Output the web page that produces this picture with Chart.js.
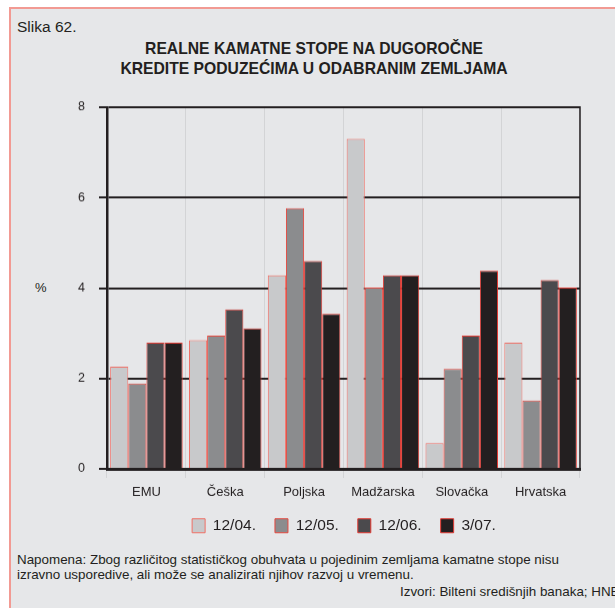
<!DOCTYPE html>
<html>
<head>
<meta charset="utf-8">
<script src="https://cdn.jsdelivr.net/npm/chart.js@4.4.1/dist/chart.umd.min.js"></script>
<style>
  html, body { margin: 0; padding: 0; background: #fff; }
  body { width: 615px; height: 608px; position: relative; overflow: hidden;
         font-family: "Liberation Sans", Arial, Helvetica, sans-serif; color: #231f20; }
  .panel { position: absolute; left: 9px; top: 7px; width: 620px; height: 620px;
           background: #e6e7e9; border-left: 2px solid #f29a93; border-top: 2px solid #f29a93; }
  .txt { position: absolute; white-space: nowrap; }
  #slika { left: 17px; top: 18px; font-size: 15.5px; line-height: 18px; }
  #title { left: 0; width: 628px; top: 39px; text-align: center; font-weight: bold; font-size: 15.7px; line-height: 20px; }
  #pct { left: 35px; top: 280px; font-size: 13px; line-height: 16px; }
  #note { left: 17px; top: 553px; font-size: 13.4px; line-height: 14.5px; }
  #src { left: 400px; top: 584px; font-size: 13.4px; line-height: 16px; }
  #wrap { position: absolute; left: 0; top: 0; width: 688px; height: 542.5px; }
</style>
</head>
<body>
<div class="panel"></div>
<div class="txt" id="slika">Slika 62.</div>
<div class="txt" id="title">REALNE KAMATNE STOPE NA DUGOROČNE<br>KREDITE PODUZEĆIMA U ODABRANIM ZEMLJAMA</div>
<div class="txt" id="pct">%</div>
<div id="wrap"><canvas id="chart"></canvas></div>
<div class="txt" id="note">Napomena: Zbog različitog statističkog obuhvata u pojedinim zemljama kamatne stope nisu<br>izravno usporedive, ali može se analizirati njihov razvoj u vremenu.</div>
<div class="txt" id="src">Izvori: Bilteni središnjih banaka; HNB</div>

<script>
// ── DATA ───────────────────────────────────────────────────
const countries = ['EMU', 'Češka', 'Poljska', 'Madžarska', 'Slovačka', 'Hrvatska'];
const periods = ['12/04.', '12/05.', '12/06.', '3/07.'];
const dec04 = [2.26, 2.85, 4.28, 7.30, 0.57, 2.79];
const dec05 = [1.89, 2.95, 5.77, 4.01, 2.21, 1.51];
const dec06 = [2.79, 3.53, 4.60, 4.28, 2.95, 4.18];
const mar07 = [2.79, 3.11, 3.43, 4.28, 4.38, 4.01];
const yTicks = [0, 2, 4, 6, 8];

// ── STYLE ──────────────────────────────────────────────────
const fills = ['#c8c9cb', '#8b8c8e', '#4b4a4d', '#231f20'];
const edges = ['#ef6f66', '#e5483f', '#e23a33', '#e23a33'];
const ink = '#231f20';
const font = '"Liberation Sans", Arial, Helvetica, sans-serif';

const series = [dec04, dec05, dec06, mar07];
const datasets = series.map((data, i) => ({
  label: periods[i],
  data,
  backgroundColor: fills[i],
  borderColor: edges[i],
  borderWidth: 1,
  borderSkipped: 'start',
  categoryPercentage: 0.92,
  barPercentage: 1.0,
}));

// right frame line of plot area
const frame = {
  id: 'frame',
  afterDraw(chart) {
    const { ctx, chartArea: a } = chart;
    ctx.save();
    ctx.strokeStyle = ink;
    ctx.lineWidth = 1.5;
    ctx.beginPath();
    ctx.moveTo(a.right, a.top - 1);
    ctx.lineTo(a.right, a.bottom);
    ctx.stroke();
    ctx.restore();
  }
};

new Chart(document.getElementById('chart'), {
  type: 'bar',
  data: { labels: countries, datasets },
  plugins: [frame],
  options: {
    responsive: true,
    maintainAspectRatio: false,
    animation: false,
    layout: { padding: { top: 107, right: 0, left: 0, bottom: 0 } },
    plugins: {
      title: { display: false },
      tooltip: { enabled: false },
      legend: {
        position: 'bottom',
        labels: {
          color: ink,
          boxWidth: 13,
          boxHeight: 14,
          padding: 19,
          font: { family: font, size: 15.5 },
        },
      },
    },
    scales: {
      x: {
        afterFit: s => { s.height = 30; },
        grid: { color: '#d3d4d6', lineWidth: 1, tickLength: 9, offset: true },
        border: { color: ink, width: 3 },
        ticks: { color: ink, padding: 7, font: { family: font, size: 13 } },
      },
      y: {
        min: 0,
        max: 8,
        afterFit: s => { s.width = 107; },
        afterBuildTicks: s => { s.ticks = yTicks.map(v => ({ value: v })); },
        grid: { color: ink, lineWidth: 2, tickLength: 8 },
        border: { color: ink, width: 2.5 },
        ticks: { color: ink, padding: 14, font: { family: font, size: 12.5 } },
      },
      // empty right-hand axis: keeps the plot narrow so the legend can sit where it does
      side: {
        position: 'right',
        min: 0,
        max: 8,
        afterFit: s => { s.width = 108; },
        grid: { display: false },
        border: { display: false },
        ticks: { display: false },
      },
    },
  },
});
</script>
</body>
</html>
